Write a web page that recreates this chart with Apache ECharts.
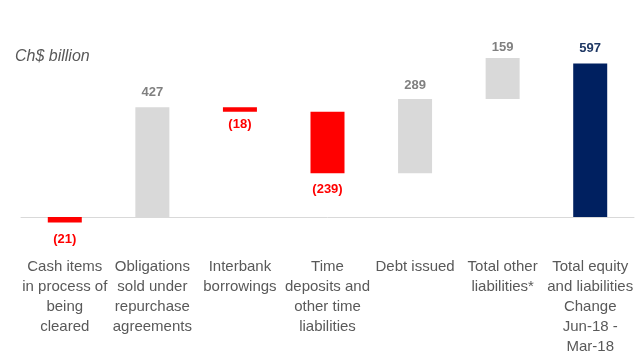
<!DOCTYPE html>
<html>
<head>
<meta charset="utf-8">
<script src="https://cdn.jsdelivr.net/npm/echarts@6/dist/echarts.min.js"></script>
<style>
  html, body { margin: 0; padding: 0; background: #ffffff; }
  #chart { width: 636px; height: 356px; }
</style>
</head>
<body>
<div id="chart"></div>
<script>
// Balance sheet change, equity and liabilities (Ch$ billion)
const categories = [
  'Cash items\nin process of\nbeing\ncleared',
  'Obligations\nsold under\nrepurchase\nagreements',
  'Interbank\nborrowings',
  'Time\ndeposits and\nother time\nliabilities',
  'Debt issued',
  'Total other\nliabilities*',
  'Total equity\nand liabilities\nChange\nJun-18 -\nMar-18'
];
const changes = [-21, 427, -18, -239, 289, 159];
const total = 597;
const valueLabels = ['(21)', '427', '(18)', '(239)', '289', '159', '597'];

const RED = '#ff0000', GRAY = '#d9d9d9', NAVY = '#002060';
const labelGap = [11, 8, 6, 9.5, 7.5, 4, 9];

// Floating bars: the first change hangs below the axis on its own,
// the running stack starts from zero with the second item.
const lows = [], heights = [], colors = [];
let run = 0;
changes.forEach((v, i) => {
  if (i === 0) {
    lows.push(Math.min(0, v));
    heights.push(Math.abs(v));
  } else {
    const next = run + v;
    lows.push(Math.min(run, next));
    heights.push(Math.abs(v));
    run = next;
  }
  colors.push(v < 0 ? RED : GRAY);
});
lows.push(0);
heights.push(total);
colors.push(NAVY);

const visibleData = heights.map((h, i) => {
  const neg = i < changes.length && changes[i] < 0;
  const isTotal = i === changes.length;
  return {
    value: h,
    itemStyle: { color: colors[i] },
    label: {
      position: neg ? 'bottom' : 'top',
      distance: labelGap[i],
      color: neg ? RED : (isTotal ? '#1f3864' : '#808080')
    }
  };
});

const chart = echarts.init(document.getElementById('chart'), null, { renderer: 'canvas' });
chart.setOption({
  animation: false,
  backgroundColor: '#ffffff',
  title: {
    text: 'Ch$ billion',
    left: 10,
    top: 44,
    textStyle: {
      fontFamily: 'Liberation Sans',
      fontSize: 16,
      fontStyle: 'italic',
      fontWeight: 'normal',
      color: '#595959'
    }
  },
  grid: { left: 21, right: 2, top: 37, bottom: 113.3, outerBoundsMode: 'none', containLabel: false },
  xAxis: {
    type: 'category',
    data: categories,
    axisLine: { onZero: true, lineStyle: { color: '#d9d9d9', width: 1 } },
    axisTick: { show: false },
    axisLabel: {
      interval: 0,
      margin: 14.3,
      fontFamily: 'Liberation Sans',
      fontSize: 15,
      lineHeight: 20,
      color: '#595959',
      align: 'center'
    }
  },
  yAxis: {
    type: 'value',
    min: -100,
    max: 700,
    show: false,
    splitLine: { show: false }
  },
  series: [
    {
      type: 'bar',
      stack: 'wf',
      stackStrategy: 'all',
      barWidth: 34,
      itemStyle: { color: 'transparent' },
      emphasis: { disabled: true },
      silent: true,
      data: lows
    },
    {
      type: 'bar',
      stack: 'wf',
      stackStrategy: 'all',
      barWidth: 34,
      label: {
        show: true,
        fontFamily: 'Liberation Sans',
        fontSize: 13,
        fontWeight: 'bold',
        formatter: p => valueLabels[p.dataIndex]
      },
      data: visibleData
    }
  ]
});
</script>
</body>
</html>
